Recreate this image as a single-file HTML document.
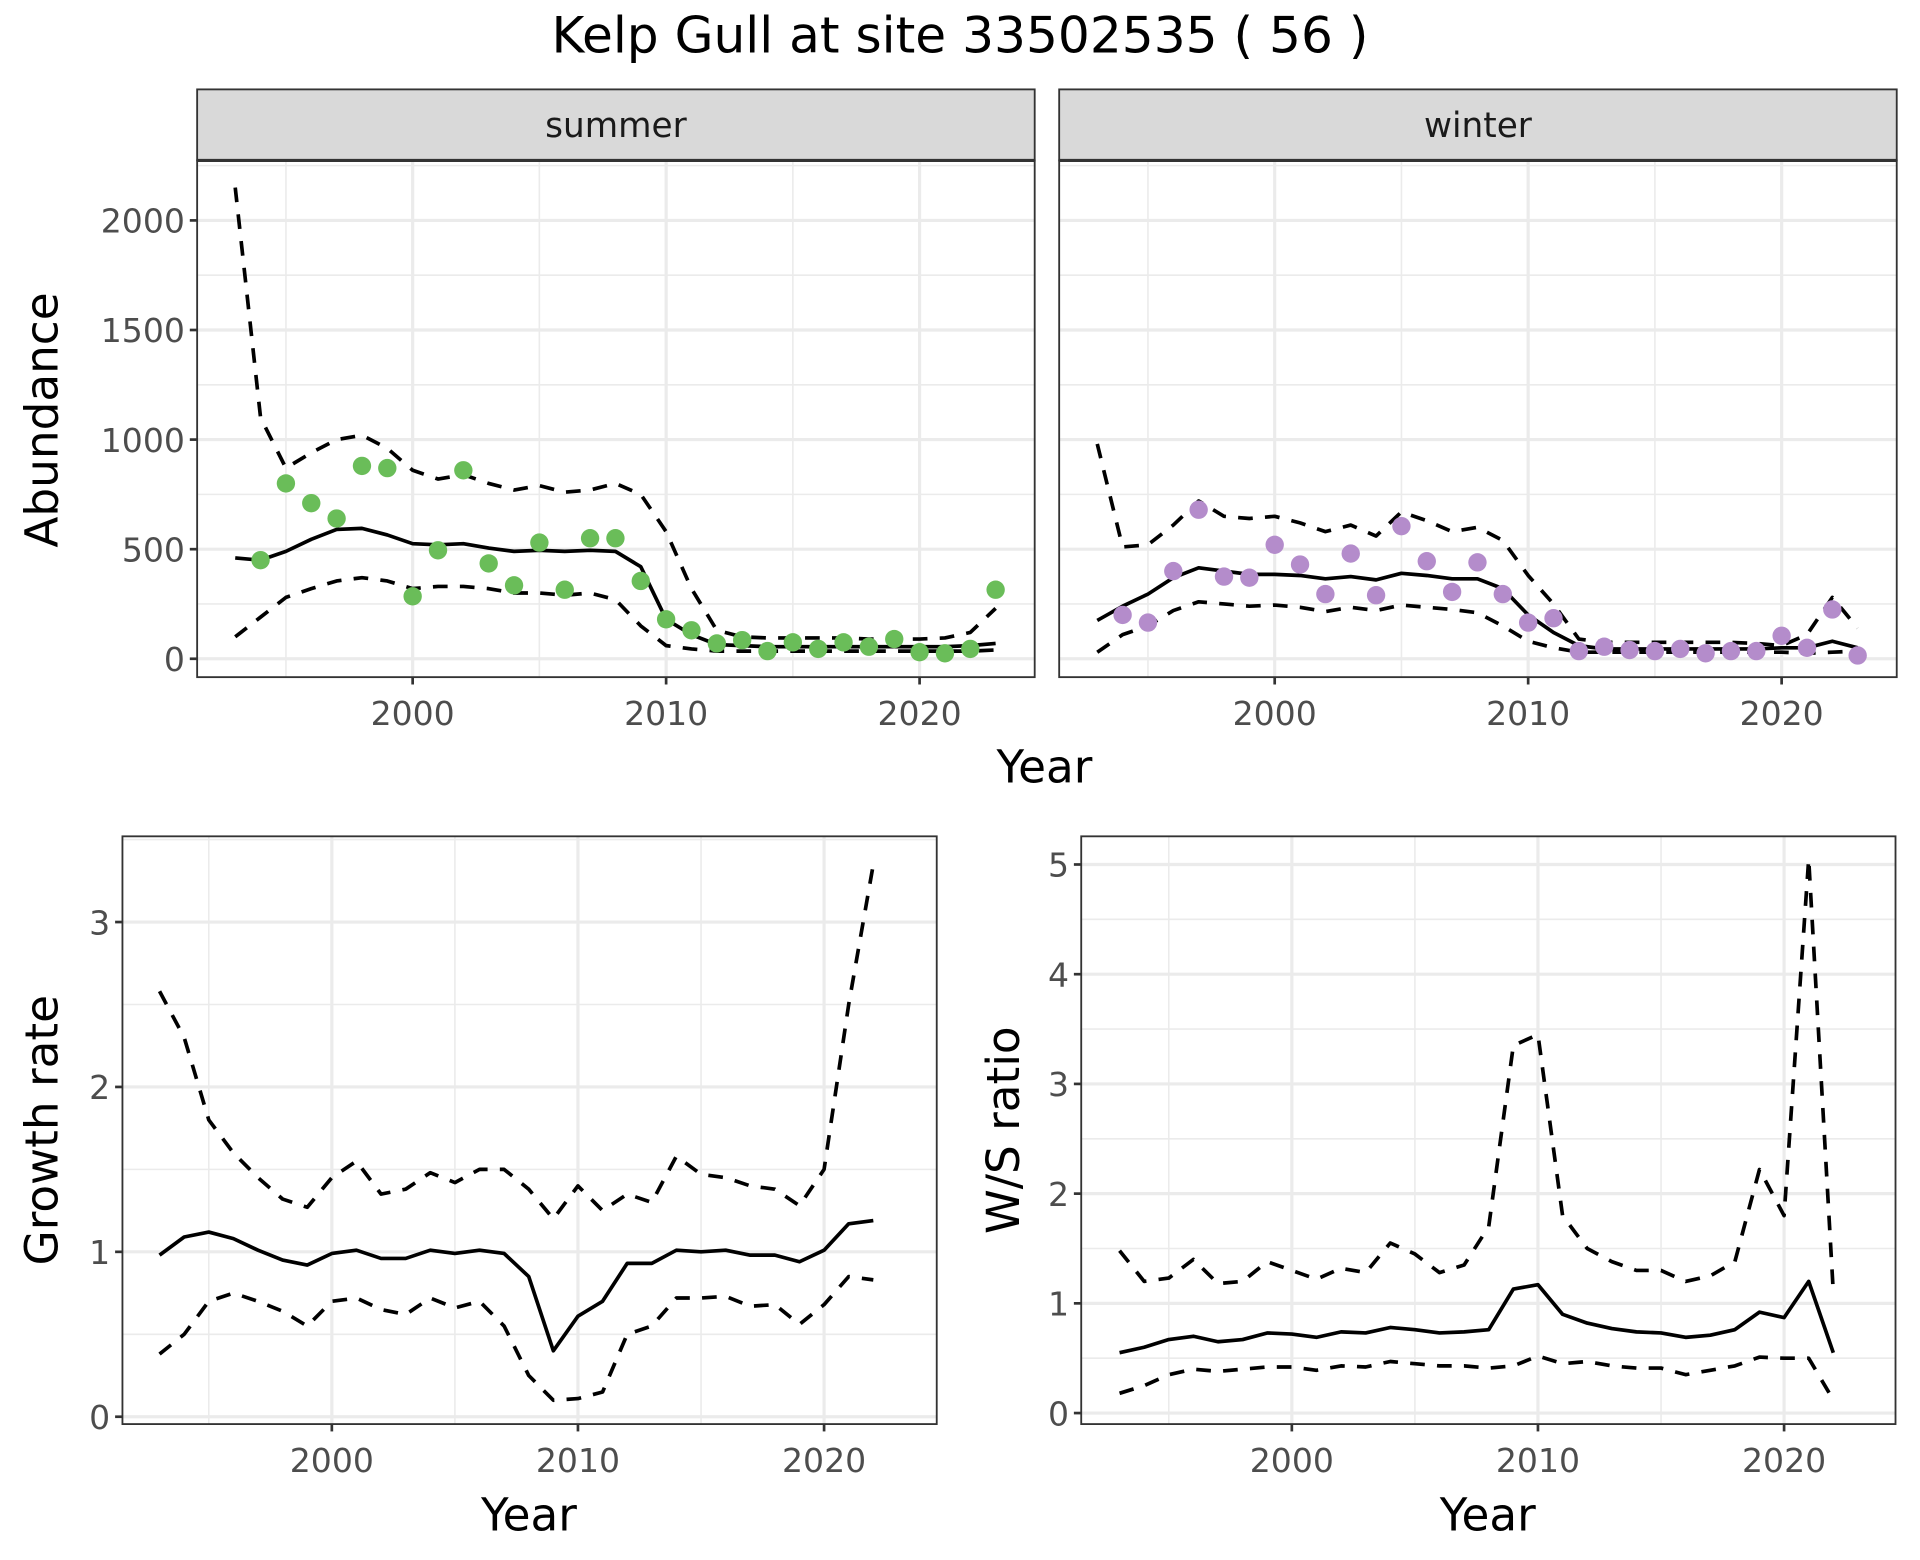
<!DOCTYPE html>
<html><head><meta charset="utf-8"><style>
html,body{margin:0;padding:0;background:#fff;}
svg{display:block;font-family:"DejaVu Sans","Liberation Sans",sans-serif;}
</style></head><body>
<svg id="chart" width="1920" height="1560" viewBox="0 0 1568 1274" preserveAspectRatio="none" xmlns="http://www.w3.org/2000/svg">
<rect width="1568" height="1274" fill="#fff"/>
<text x="784" y="43" font-size="41" text-anchor="middle" fill="#000">Kelp Gull at site 33502535 ( 56 )</text>
</svg>
<script>
const yearsAb=[1993,1994,1995,1996,1997,1998,1999,2000,2001,2002,2003,2004,2005,2006,2007,2008,2009,2010,2011,2012,2013,2014,2015,2016,2017,2018,2019,2020,2021,2022,2023];
const summerObs=[null,450,800,710,640,880,870,285,495,860,435,335,530,315,550,550,355,180,130,70,85,35,75,45,75,55,90,30,25,45,315];
const summerMean=[460,450,490,545,590,595,565,525,520,525,505,490,495,490,495,490,420,180,110,65,60,55,55,55,55,55,55,55,55,60,70];
const summerUpper=[2150,1100,870,940,1000,1020,960,860,820,840,800,770,790,760,770,800,750,580,320,130,100,95,95,95,95,90,90,90,95,120,230];
const summerLower=[100,190,280,320,355,370,355,320,330,330,320,300,300,290,300,270,150,60,45,35,35,35,35,35,35,35,35,35,35,35,40];
const winterObs=[null,200,165,400,680,375,370,520,430,295,480,290,605,445,305,440,295,165,185,35,55,40,35,45,25,35,35,105,50,225,15];
const winterMean=[175,240,295,370,415,400,385,385,380,365,375,360,390,380,365,365,320,200,120,60,45,45,45,45,45,45,45,50,50,80,50];
const winterUpper=[980,510,520,610,720,650,640,650,620,580,610,560,670,630,580,600,540,380,250,90,75,75,75,75,75,75,70,60,110,280,140];
const winterLower=[30,110,150,220,260,250,240,245,235,215,235,220,245,235,225,210,150,80,50,30,30,30,30,30,30,30,30,30,25,30,35];
const yearsR=[1993,1994,1995,1996,1997,1998,1999,2000,2001,2002,2003,2004,2005,2006,2007,2008,2009,2010,2011,2012,2013,2014,2015,2016,2017,2018,2019,2020,2021,2022];
const growthMean=[0.98,1.09,1.12,1.08,1.01,0.95,0.92,0.99,1.01,0.96,0.96,1.01,0.99,1.01,0.99,0.85,0.40,0.61,0.70,0.93,0.93,1.01,1.00,1.01,0.98,0.98,0.94,1.01,1.17,1.19];
const growthUpper=[2.58,2.30,1.80,1.60,1.45,1.32,1.27,1.45,1.55,1.35,1.38,1.48,1.42,1.50,1.50,1.38,1.20,1.40,1.25,1.35,1.30,1.58,1.47,1.45,1.40,1.38,1.28,1.50,2.50,3.35];
const growthLower=[0.38,0.50,0.70,0.75,0.70,0.64,0.55,0.70,0.72,0.65,0.62,0.72,0.66,0.70,0.55,0.25,0.10,0.11,0.15,0.50,0.55,0.72,0.72,0.73,0.67,0.68,0.56,0.68,0.85,0.83];
const ratioMean=[0.55,0.60,0.67,0.70,0.65,0.67,0.73,0.72,0.69,0.74,0.73,0.78,0.76,0.73,0.74,0.76,1.13,1.17,0.90,0.82,0.77,0.74,0.73,0.69,0.71,0.76,0.92,0.87,1.20,0.55];
const ratioUpper=[1.48,1.20,1.23,1.40,1.18,1.20,1.38,1.30,1.22,1.32,1.28,1.55,1.45,1.28,1.35,1.70,3.35,3.45,1.80,1.50,1.38,1.30,1.30,1.20,1.25,1.38,2.22,1.80,5.05,1.10];
const ratioLower=[0.18,0.25,0.35,0.40,0.38,0.40,0.42,0.42,0.39,0.43,0.42,0.47,0.45,0.43,0.43,0.41,0.43,0.52,0.45,0.47,0.43,0.41,0.41,0.35,0.39,0.43,0.51,0.50,0.50,0.12];
const xTicks=[2000,2010,2020];
const abTicks=[0,500,1000,1500,2000];
const growthTicks=[0,1,2,3];
const ratioTicks=[0,1,2,3,4,5];

const NS="http://www.w3.org/2000/svg";
const svg=document.getElementById('chart');
function mk(tag,attrs,parent){const e=document.createElementNS(NS,tag);for(const k in attrs)e.setAttribute(k,attrs[k]);(parent||svg).appendChild(e);return e;}
function lin(d0,d1,r0,r1){return v=>r0+(v-d0)*(r1-r0)/(d1-d0);}

function panel(o){
  const g=mk('g',{});
  
  
  const x=lin(2000,2010,o.x2000,o.x2010), y=lin(o.yv0,o.yv1,o.yp0,o.yp1);
  for(let i=0;i<o.yTicks.length;i++){const v=o.yTicks[i]+o.ystep/2;const py=y(v);if(py>o.top&&py<o.bottom){mk('line',{x1:o.left,x2:o.right,y1:py,y2:py,stroke:'#ebebeb','stroke-width':1.3},g);}}
  const ym=o.yTicks[0]-o.ystep/2; if(y(ym)<o.bottom) mk('line',{x1:o.left,x2:o.right,y1:y(ym),y2:y(ym),stroke:'#ebebeb','stroke-width':1.3},g);
  [1995,2005,2015].forEach(v=>{mk('line',{x1:x(v),x2:x(v),y1:o.top,y2:o.bottom,stroke:'#ebebeb','stroke-width':1.3},g);});
  o.yTicks.forEach(v=>{mk('line',{x1:o.left,x2:o.right,y1:y(v),y2:y(v),stroke:'#ebebeb','stroke-width':2.6},g);});
  xTicks.forEach(v=>{mk('line',{x1:x(v),x2:x(v),y1:o.top,y2:o.bottom,stroke:'#ebebeb','stroke-width':2.6},g);});
  function path(ys,dash,name){let d='';o.years.forEach((yr,i)=>{d+=(i?'L':'M')+x(yr).toFixed(2)+','+y(ys[i]).toFixed(2);});
    const p=mk('path',{d:d,fill:'none',stroke:'#000','stroke-width':3,'stroke-dasharray':dash?'12 10':'none','stroke-linejoin':'round'},g);
    
    }
  path(o.upper,true,'upper-ci-line');path(o.lower,true,'lower-ci-line');path(o.mean,false,'mean-line');
  if(o.obs){o.years.forEach((yr,i)=>{if(o.obs[i]==null)return;const c=mk('circle',{cx:x(yr),cy:y(o.obs[i]),r:7.5,fill:o.color},g);
    
    });}
  mk('rect',{x:o.left,y:o.top,width:o.right-o.left,height:o.bottom-o.top,fill:'none',stroke:'#333','stroke-width':1.5},g);
  xTicks.forEach(v=>{mk('line',{x1:x(v),x2:x(v),y1:o.bottom,y2:o.bottom+6,stroke:'#333','stroke-width':2.2},g);
    const t=mk('text',{x:x(v),y:o.bottom+39,'font-size':27,'text-anchor':'middle',fill:'#4d4d4d'},g);t.textContent=v;
    
    });
  if(o.showY){o.yTicks.forEach(v=>{mk('line',{x1:o.left-6,x2:o.left,y1:y(v),y2:y(v),stroke:'#333','stroke-width':2.2},g);
    const t=mk('text',{x:o.left-10,y:y(v)+10,'font-size':27,'text-anchor':'end',fill:'#4d4d4d'},g);t.textContent=v;
    
    });}
  if(o.strip){const r=mk('rect',{x:o.left,y:73,width:o.right-o.left,height:58,fill:'#d9d9d9',stroke:'#333','stroke-width':1.5},g);
    
    
    mk('line',{x1:o.left,x2:o.right,y1:131,y2:131,stroke:'#333','stroke-width':2.6},g);
    const t=mk('text',{x:(o.left+o.right)/2,y:112,'font-size':28,'text-anchor':'middle',fill:'#1a1a1a'},g);t.textContent=o.strip;
    
    }
}
panel({name:'summer-panel',left:161,right:845,top:131,bottom:553,x2000:337,x2010:544,yv0:0,yv1:2000,yp0:538,yp1:180,yTicks:abTicks,ystep:500,years:yearsAb,obs:summerObs,mean:summerMean,upper:summerUpper,lower:summerLower,color:'#6abd59',showY:true,strip:'summer'});
panel({name:'winter-panel',left:865,right:1549,top:131,bottom:553,x2000:1041,x2010:1248,yv0:0,yv1:2000,yp0:538,yp1:180,yTicks:abTicks,ystep:500,years:yearsAb,obs:winterObs,mean:winterMean,upper:winterUpper,lower:winterLower,color:'#b48ccb',showY:false,strip:'winter'});
panel({name:'growth-rate-panel',left:100,right:765,top:683,bottom:1163,x2000:271,x2010:472,yv0:0,yv1:3,yp0:1157,yp1:753,yTicks:growthTicks,ystep:1,years:yearsR,mean:growthMean,upper:growthUpper,lower:growthLower,showY:true});
panel({name:'ws-ratio-panel',left:883,right:1548,top:683,bottom:1163,x2000:1055,x2010:1256,yv0:0,yv1:5,yp0:1154,yp1:706,yTicks:ratioTicks,ystep:1,years:yearsR,mean:ratioMean,upper:ratioUpper,lower:ratioLower,showY:true});

function label(txt,x,y,rot,name){const t=mk('text',{x:x,y:y,'font-size':37,'text-anchor':'middle',fill:'#000'});
  if(rot)t.setAttribute('transform','rotate(-90 '+x+' '+y+')');t.textContent=txt;
  
  }
label('Year',853,639,false,'x-axis-title-top');
label('Abundance',47,343,true,'y-axis-title-abundance');
label('Year',432,1250,false,'x-axis-title-growth');
label('Growth rate',47,923,true,'y-axis-title-growth');
label('Year',1215,1250,false,'x-axis-title-ratio');
label('W/S ratio',832,923,true,'y-axis-title-ratio');
</script>
</body></html>
